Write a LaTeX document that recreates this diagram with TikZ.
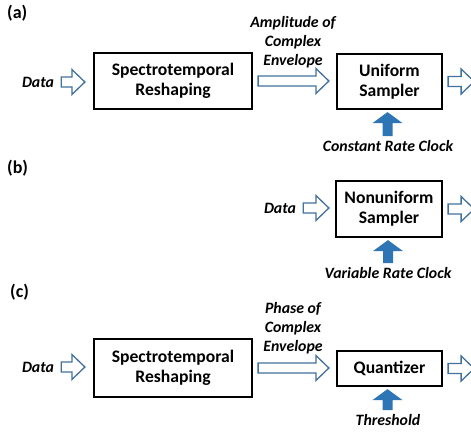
\documentclass[tikz,border=0pt]{standalone}
\usepackage{fontspec}
\setmainfont{Carlito}
\usetikzlibrary{calc}
\definecolor{arrowedge}{HTML}{41719C}
\definecolor{clockblue}{HTML}{2E75B6}
\tikzset{
  box/.style={draw=black, line width=2.2pt, fill=white, align=center, inner sep=0pt,
    font=\bfseries\fontsize{17.6}{20}\selectfont},
  lab/.style={align=center, inner sep=0pt, font=\bfseries\itshape\fontsize{15.8}{19}\selectfont},
  panel/.style={anchor=west, inner sep=0pt, font=\bfseries\fontsize{18}{20}\selectfont},
  hollow/.style={draw=arrowedge, line width=1.3pt, fill=white, line join=miter},
  clock/.style={fill=clockblue},
}
\newcommand\hollowarrow[2]{%
  \draw[hollow] let \p1=(#1), \p2=(#2) in
   (\x1,\y1+5pt) -- (\x2-13pt,\y1+5pt) -- (\x2-13pt,\y1+12.5pt) -- (\x2,\y1)
   -- (\x2-13pt,\y1-12.5pt) -- (\x2-13pt,\y1-5pt) -- (\x1,\y1-5pt) -- cycle;}
\newcommand\clockarrow[2]{%
  \fill[clock] let \p1=(#1), \p2=(#2) in
   (\x2,\y2) -- (\x2+15pt,\y2-11pt) -- (\x2+5pt,\y2-11pt) -- (\x2+5pt,\y1)
   -- (\x2-5pt,\y1) -- (\x2-5pt,\y2-11pt) -- (\x2-15pt,\y2-11pt) -- cycle;}
\begin{document}
\begin{tikzpicture}[x=1pt, y=-1pt]
\useasboundingbox (0,0) rectangle (471,434);
\clip (0,0) rectangle (471,434);
% ---------- (a)
\node[panel] (pa) at (7,13) {(a)};
\node[lab] (d1) at (38,82) {Data};
\node[box, minimum width=158, minimum height=56] (sr1) at (173,81) {Spectrotemporal\\Reshaping};
\node[box, minimum width=105, minimum height=55] (us) at (389.5,81.5) {Uniform\\Sampler};
\node[lab] (amp) at (293,42) {Amplitude of\\Complex\\Envelope};
\node[lab] (cl1) at (388,146) {Constant Rate Clock};
\coordinate (o1) at ($(us.east)+(31,0)$);
\hollowarrow{$(d1.east)+(7,0)$}{$(sr1.west)+(-8,0)$}
\hollowarrow{$(sr1.east)+(5,0)$}{$(us.west)+(-7,0)$}
\hollowarrow{$(us.east)+(5,0)$}{o1}
\clockarrow{$(cl1.north)+(0,-4)$}{$(us.south)+(-2,2)$}
% ---------- (b)
\node[panel] (pb) at (7,168) {(b)};
\node[box, minimum width=106, minimum height=56] (nus) at (389,209) {Nonuniform\\Sampler};
\node[lab] (d2) at (280,208) {Data};
\node[lab] (cl2) at (388,273) {Variable Rate Clock};
\coordinate (o2) at ($(nus.east)+(31,0)$);
\hollowarrow{$(d2.east)+(7,0)$}{$(nus.west)+(-6,0)$}
\hollowarrow{$(nus.east)+(5,0)$}{o2}
\clockarrow{$(cl2.north)+(0,-4)$}{$(nus.south)+(-1,2)$}
% ---------- (c)
\node[panel] (pc) at (10,292) {(c)};
\node[lab] (d3) at (38,367) {Data};
\node[box, minimum width=158, minimum height=58] (sr2) at (173,368) {Spectrotemporal\\Reshaping};
\node[box, minimum width=105, minimum height=35] (qz) at (389.5,368.5) {Quantizer};
\node[lab] (ph) at (293,328) {Phase of\\Complex\\Envelope};
\node[lab] (th) at (388,420) {Threshold};
\coordinate (o3) at ($(qz.east)+(31,0)$);
\hollowarrow{$(d3.east)+(7,0)$}{$(sr2.west)+(-8,0)$}
\hollowarrow{$(sr2.east)+(5,0)$}{$(qz.west)+(-7,0)$}
\hollowarrow{$(qz.east)+(5,0)$}{o3}
\clockarrow{$(th.north)+(0,-4)$}{$(qz.south)+(-2,2)$}
\end{tikzpicture}
\end{document}
